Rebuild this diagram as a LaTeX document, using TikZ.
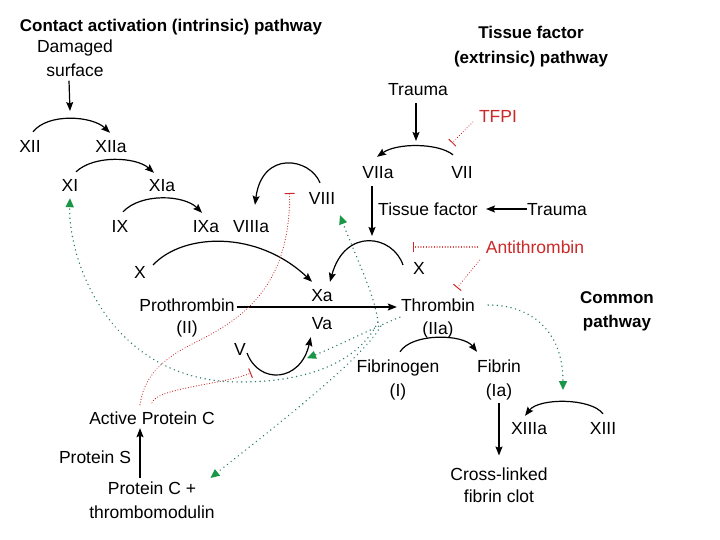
\documentclass[tikz,border=0pt]{standalone}
\usepackage{fontspec}
\setmainfont{Liberation Sans}
\usetikzlibrary{arrows.meta}
\definecolor{ired}{RGB}{205,40,40}
\definecolor{gdot}{RGB}{45,125,110}
\definecolor{ghead}{RGB}{25,150,70}
\tikzset{
  lbl/.style={inner sep=0pt, text height=12pt, text depth=0pt, font=\fontsize{17.5}{24}\selectfont},
  txt/.style={inner sep=0pt, align=center, anchor=north, font=\fontsize{17.5}{24}\selectfont},
  ttl/.style={inner sep=0pt, align=center, anchor=north, font=\bfseries\fontsize{17}{25}\selectfont},
  act/.style={line width=1.2pt, -{Stealth[length=9pt,width=7pt,inset=1.5pt]}},
  inh/.style={ired, line width=1.1pt, dash pattern=on 0.1pt off 2.6pt, line cap=round, -{Bar[width=10pt,line width=1pt]}},
  fb/.style={gdot, line width=1.5pt, dash pattern=on 0.1pt off 4.5pt, line cap=round, -{Triangle[length=9pt,width=8pt,color=ghead]}},
}
\begin{document}
\begin{tikzpicture}[x=1pt,y=-1pt]
\fill[white] (0,0) rectangle (720,540);
\useasboundingbox (0,0) rectangle (720,540);

% titles and plain texts
\node[ttl] (t1) at (171,18.5) {Contact activation (intrinsic) pathway};
\node[ttl] (t2) at (531,25.5) {Tissue factor\\(extrinsic) pathway};
\node[ttl, font=\bfseries\fontsize{17}{24}\selectfont] (cp) at (617,291.5) {Common\\pathway};
\node[txt] (dmg) at (75,39.5) {Damaged\\surface};
\node[txt, font=\fontsize{17.5}{22}\selectfont] (clot) at (499,467.5) {Cross-linked\\fibrin clot};
\node[txt] (pc) at (152,481.5) {Protein C +\\thrombomodulin};

% factors
\node[lbl] (xii) at (30,147) {XII};
\node[lbl] (xiia) at (111,147) {XIIa};
\node[lbl] (xi) at (70,186) {XI};
\node[lbl] (xia) at (162,186) {XIa};
\node[lbl] (ix) at (120,227) {IX};
\node[lbl] (ixa) at (206,227) {IXa};
\node[lbl] (viiia) at (251,227) {VIIIa};
\node[lbl] (viii) at (322,199) {VIII};
\node[lbl] (x1) at (140,272) {X};
\node[lbl] (xa) at (322,295) {Xa};
\node[lbl] (va) at (322,323) {Va};
\node[lbl] (pro) at (187,305) {Prothrombin};
\node[lbl] (ii) at (187,327) {(II)};
\node[lbl] (thr) at (438,305) {Thrombin};
\node[lbl] (iia) at (438,328) {(IIa)};
\node[lbl] (v) at (240,349) {V};
\node[lbl] (trauma1) at (418,90) {Trauma};
\node[lbl, text=ired] (tfpi) at (498,117) {TFPI};
\node[lbl] (viia) at (378,173) {VIIa};
\node[lbl] (vii) at (462,173) {VII};
\node[lbl] (tf) at (428,209) {Tissue factor};
\node[lbl] (trauma2) at (557,209) {Trauma};
\node[lbl] (x2) at (419,268) {X};
\node[lbl, text=ired] (anti) at (535,247) {Antithrombin};
\node[lbl] (fbg) at (398,366) {Fibrinogen};
\node[lbl] (fi) at (398,390) {(I)};
\node[lbl] (fbn) at (499,366) {Fibrin};
\node[lbl] (ia) at (499,390) {(Ia)};
\node[lbl] (xiiia) at (529,428) {XIIIa};
\node[lbl] (xiii) at (603,428) {XIII};
\node[lbl] (apc) at (152,418) {Active Protein C};
\node[lbl] (ps) at (95,457) {Protein S};

% free ends
\coordinate (k1) at (70,111);
\coordinate (k2) at (372,236);
\coordinate (k3) at (416,141);
\coordinate (k4) at (452,143);
\coordinate (k5) at (413,247);
\coordinate (k7) at (563,390);

% activation arrows
\draw[act] ([shift={(-6,4)}]dmg.south) -- (k1);
\draw[act] ([shift={(3,-9)}]xii.north) .. controls +(15,-19) and +(-18,-17) .. ([shift={(-1,-8)}]xiia.north);
\draw[act] ([shift={(6,-8)}]xi.north) .. controls +(18,-17) and +(-18,-16) .. ([shift={(-8,-7)}]xia.north);
\draw[act] ([shift={(3,-9)}]ix.north) .. controls +(18,-19) and +(-18,-18) .. ([shift={(-4,-8)}]ixa.north);
\draw[act] ([shift={(-2,-10)}]viii.north) .. controls +(-10,-25) and +(7,-55) .. ([shift={(4,-16)}]viiia.north);
\draw[act] ([shift={(7,-7)}]x1.east) .. controls +(30,-32) and +(-55,-52) .. ([shift={(-10,-7)}]xa.north);
\draw[act] ([shift={(-10,-3)}]x2.west) .. controls +(-10,-30) and +(15,-55) .. ([shift={(8,-7)}]xa.north);
\draw[act] ([shift={(-6,7)}]viia.south) -- (k2);
\draw[act] ([shift={(-2,7)}]trauma1.south) -- (k3);
\draw[act] ([shift={(-9,-12)}]vii.north) .. controls +(-15,-12) and +(20,-14) .. ([shift={(-1,-10)}]viia.north);
\draw[act] (trauma2.west) -- ([xshift=8pt]tf.east);
\draw[act] ([shift={(2,2)}]pro.east) -- ([shift={(-4,2)}]thr.west);
\draw[act] ([shift={(1,4)}]v.east) .. controls +(12,32) and +(-10,45) .. ([shift={(-1,8)}]va.south west);
\draw[act] ([shift={(2,-8)}]fbg.north) .. controls +(12,-19) and +(-14,-18) .. ([shift={(-22,-8)}]fbn.north);
\draw[act] ([shift={(0,7)}]ia.south) -- ([shift={(0,-12)}]clot.north);
\draw[act] ([shift={(0,-8)}]xiii.north) .. controls +(-12,-16) and +(14,-18) .. ([shift={(-4,-6)}]xiiia.north);
\draw[act] ([shift={(-12,-3.5)}]pc.north) -- ([shift={(-12,4)}]apc.south);

% inhibition
\draw[inh] ([shift={(-6,5)}]tfpi.west) -- (k4);
\draw[inh] ([shift={(-8,0)}]anti.west) -- (k5);
\draw[inh] ([shift={(-6,7)}]anti.south west) -- ([shift={(19,-11)}]thr.north);
\draw[inh] ([shift={(-12,-7)}]apc.north) .. controls (145,370) and (170,355) .. (200,340)
   .. controls (250,315) and (290,280) .. ([shift={(-19,-6)}]viii.west);
\draw[inh] ([shift={(0,-9)}]apc.north) .. controls +(5,-15) and +(-30,12) .. ([shift={(11,24)}]v.center);

% thrombin feedback
\draw[fb] ([xshift=13pt]thr.east) .. controls +(42,0) and +(0,-60) .. (k7);
\draw[fb] ([shift={(-23,11)}]thr.south west) .. controls +(-2,-25) and +(15,40) .. ([shift={(18,10)}]viii.south);
\draw[fb] ([shift={(-1,6)}]thr.south west) .. controls +(-25,10) and +(30,-12) .. ([shift={(-15,29)}]va.south);
\draw[fb] ([shift={(-23,11)}]thr.south west) .. controls (362,355) and (320,382) .. (240,382)
   .. controls (110,382) and (68,260) .. ([shift={(0,6)}]xi.south);
\draw[fb] ([shift={(-20,15)}]thr.south west) .. controls +(-20,35) and +(50,-40) .. ([shift={(-4.5,-3.5)}]pc.north east);
\end{tikzpicture}
\end{document}
